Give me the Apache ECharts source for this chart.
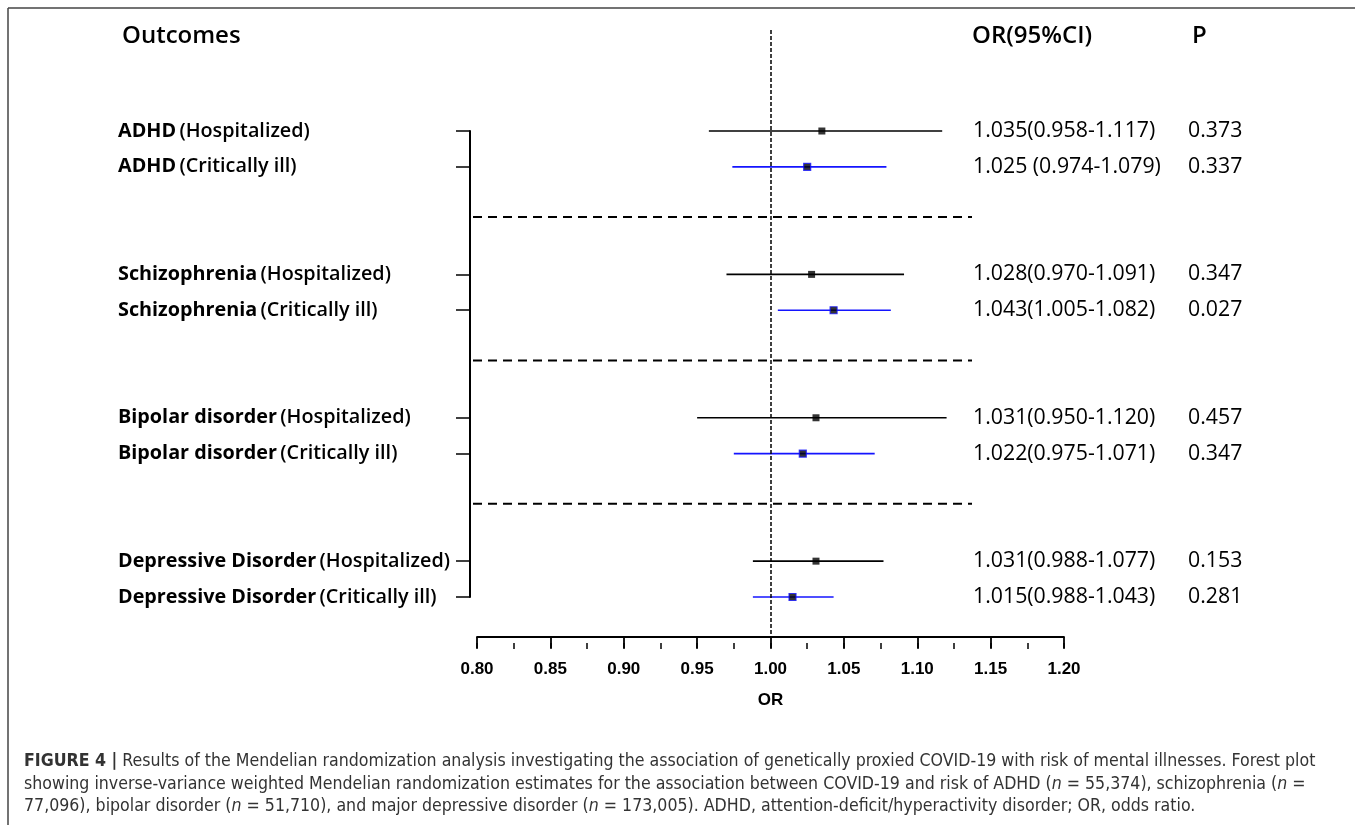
<!DOCTYPE html>
<html>
<head>
<meta charset="utf-8">
<script src="https://cdn.jsdelivr.net/npm/echarts@6/dist/echarts.min.js"></script>
<style>
html,body{margin:0;padding:0;background:#fff;}
#chart{width:1355px;height:825px;}
</style>
</head>
<body>
<div id="chart"></div>
<script>
// ---- data ----
const outcomes = ['ADHD','ADHD','Schizophrenia','Schizophrenia','Bipolar disorder','Bipolar disorder','Depressive Disorder','Depressive Disorder'];
const conditions = ['Hospitalized','Critically ill','Hospitalized','Critically ill','Hospitalized','Critically ill','Hospitalized','Critically ill'];
const orValues = [1.035,1.025,1.028,1.043,1.031,1.022,1.031,1.015];
const ciLower  = [0.958,0.974,0.970,1.005,0.950,0.975,0.988,0.988];
const ciUpper  = [1.117,1.079,1.091,1.082,1.120,1.071,1.077,1.043];
const ciLabels = ['1.035(0.958-1.117)','1.025 (0.974-1.079)','1.028(0.970-1.091)','1.043(1.005-1.082)','1.031(0.950-1.120)','1.022(0.975-1.071)','1.031(0.988-1.077)','1.015(0.988-1.043)'];
const pValues  = ['0.373','0.337','0.347','0.027','0.457','0.347','0.153','0.281'];
const xMin = 0.80, xMax = 1.20, xStep = 0.05;

// ---- layout helpers ----
const rowPos = outcomes.map((_, i) => Math.floor(i / 2) * 4 + (i % 2));
const sepPos = [1, 2, 3].map(g => g * 4 - 1.6);
const isCrit = conditions.map(c => c === 'Critically ill');
const BLUE = '#1414ff';
const labelFont = 'Open Sans';
const labelOf = v => rowPos.indexOf(v);

const chart = echarts.init(document.getElementById('chart'));

const captionRich = '{b|FIGURE 4 |} {t|Results of the Mendelian randomization analysis investigating the association of genetically proxied COVID-19 with risk of mental illnesses. Forest plot}\n' +
  '{t|showing inverse-variance weighted Mendelian randomization estimates for the association between COVID-19 and risk of ADHD (}{i|n}{t| = 55,374), schizophrenia (}{i|n}{t| =}\n' +
  '{t|77,096), bipolar disorder (}{i|n}{t| = 51,710), and major depressive disorder (}{i|n}{t| = 173,005). ADHD, attention-deficit/hyperactivity disorder; OR, odds ratio.}';

const capFont = '"DejaVu Sans Condensed", "Liberation Sans", sans-serif';
const axFont = '"Liberation Sans", Arial, sans-serif';
const headStyle = { fontFamily: labelFont, fontWeight: 600, fontSize: 24, color: '#000' };
const CAP = 17.6;

const option = {
  backgroundColor: '#fff',
  animation: false,
  title: [
    { text: 'Outcomes', left: 122, top: 24, padding: 0, textStyle: headStyle },
    { text: 'OR(95%CI)', left: 972, top: 24, padding: 0, textStyle: headStyle },
    { text: 'P', left: 1192, top: 24, padding: 0, textStyle: headStyle },
    { text: captionRich, left: 24, top: 750, padding: 0,
      textStyle: { fontWeight: 'normal', rich: {
        b: { fontFamily: capFont, fontWeight: 'bold', fontSize: CAP, color: '#333', lineHeight: 22.7 },
        t: { fontFamily: capFont, fontWeight: 'normal', fontSize: CAP, color: '#333', lineHeight: 22.7 },
        i: { fontFamily: capFont, fontWeight: 'normal', fontStyle: 'italic', fontSize: CAP, color: '#333', lineHeight: 22.7 }
      } } }
  ],
  graphic: [
    { type: 'line', shape: { x1: 8, y1: 8, x2: 1355, y2: 8 }, style: { stroke: '#444', lineWidth: 1.5 } },
    { type: 'line', shape: { x1: 8, y1: 8, x2: 8, y2: 825 }, style: { stroke: '#444', lineWidth: 1.5 } }
  ],
  grid: [
    { left: 477, right: 291, top: 30, bottom: 188 },
    { left: 470, right: 383, top: 131, height: 466 },
    { left: 973, width: 1, top: 131, height: 466 },
    { left: 1188, width: 1, top: 131, height: 466 }
  ],
  xAxis: [
    { gridIndex: 0, type: 'value', min: xMin, max: xMax, interval: xStep, position: 'bottom',
      axisLine: { onZero: false, lineStyle: { color: '#000', width: 1.8 } },
      axisTick: { length: 11, lineStyle: { color: '#000', width: 1.8 } },
      axisLabel: { margin: 24, formatter: v => v.toFixed(2), fontFamily: axFont, fontWeight: 'bold', fontSize: 17, color: '#000' },
      splitLine: { show: false },
      name: 'OR', nameLocation: 'middle', nameGap: 55,
      nameTextStyle: { fontFamily: axFont, fontWeight: 'bold', fontSize: 17, color: '#000' } },
    { gridIndex: 0, type: 'value', min: xMin, max: xMax, interval: xStep / 2, position: 'bottom', offset: 6,
      axisLine: { show: false, onZero: false }, axisTick: { length: 6, lineStyle: { color: '#000', width: 1.5 } },
      axisLabel: { show: false }, splitLine: { show: false } },
    { gridIndex: 1, type: 'value', min: 0, max: 1, show: false },
    { gridIndex: 2, type: 'value', min: 0, max: 1, show: false },
    { gridIndex: 3, type: 'value', min: 0, max: 1, show: false }
  ],
  yAxis: [
    { gridIndex: 0, type: 'value', inverse: true, min: -2.818, max: 14.116, show: false },
    { gridIndex: 1, type: 'value', inverse: true, min: 0, max: 13, position: 'left',
      axisLine: { show: true, onZero: false, lineStyle: { color: '#000', width: 2 } },
      axisTick: { show: true, customValues: rowPos, length: 14, lineStyle: { color: '#000', width: 1.5 } },
      axisLabel: { show: true, customValues: rowPos, align: 'left', margin: 352,
        formatter: v => { const i = labelOf(v); return i < 0 ? '' : '{b|' + outcomes[i] + '} {n|(' + conditions[i] + ')}'; },
        rich: {
          b: { fontFamily: labelFont, fontWeight: 'bold', fontSize: 19.8, color: '#000' },
          n: { fontFamily: labelFont, fontWeight: 600, fontSize: 19.8, color: '#000' }
        } },
      splitLine: { show: false } },
    { gridIndex: 2, type: 'value', inverse: true, min: 0, max: 13,
      axisLine: { show: false }, axisTick: { show: false }, splitLine: { show: false },
      axisLabel: { show: true, inside: true, margin: 0, align: 'left', customValues: rowPos,
        formatter: v => { const i = labelOf(v); return i < 0 ? '' : ciLabels[i]; },
        fontFamily: labelFont, fontSize: 21.3, color: '#000' } },
    { gridIndex: 3, type: 'value', inverse: true, min: 0, max: 13,
      axisLine: { show: false }, axisTick: { show: false }, splitLine: { show: false },
      axisLabel: { show: true, inside: true, margin: 0, align: 'left', customValues: rowPos,
        formatter: v => { const i = labelOf(v); return i < 0 ? '' : pValues[i]; },
        fontFamily: labelFont, fontSize: 21.3, color: '#000' } }
  ],
  series: [
    { type: 'custom', xAxisIndex: 0, yAxisIndex: 0, clip: false,
      data: orValues.map((_, i) => [ciLower[i], ciUpper[i], rowPos[i], isCrit[i] ? 1 : 0]),
      encode: { x: [0, 1], y: 2 },
      renderItem: (params, api) => {
        const y = api.value(2);
        const p1 = api.coord([api.value(0), y]);
        const p2 = api.coord([api.value(1), y]);
        return { type: 'line', shape: { x1: p1[0], y1: p1[1], x2: p2[0], y2: p2[1] },
          style: { stroke: api.value(3) ? BLUE : '#000', lineWidth: 1.6 } };
      },
      markLine: { silent: true, symbol: 'none', label: { show: false },
        lineStyle: { color: '#000', width: 1.5, type: [4, 2] },
        data: [{ xAxis: 1.0 }] }
    },
    { type: 'scatter', xAxisIndex: 0, yAxisIndex: 0, symbol: 'rect', symbolSize: 7, z: 5,
      data: orValues.map((v, i) => ({ value: [v, rowPos[i]],
        itemStyle: isCrit[i] ? { color: '#000', borderColor: BLUE, borderWidth: 1.2 } : { color: '#000' } })) },
    { type: 'custom', xAxisIndex: 2, yAxisIndex: 1, clip: false,
      data: sepPos.map(p => [p]),
      encode: { y: 0 },
      renderItem: (params, api) => {
        const y = api.value(0);
        const p1 = api.coord([0, y]);
        const p2 = api.coord([1, y]);
        return { type: 'line', shape: { x1: p1[0] + 3, y1: p1[1], x2: p2[0], y2: p2[1] },
          style: { stroke: '#000', lineWidth: 2, lineDash: [9, 6] } };
      } }
  ]
};
chart.setOption(option);
</script>
</body>
</html>
